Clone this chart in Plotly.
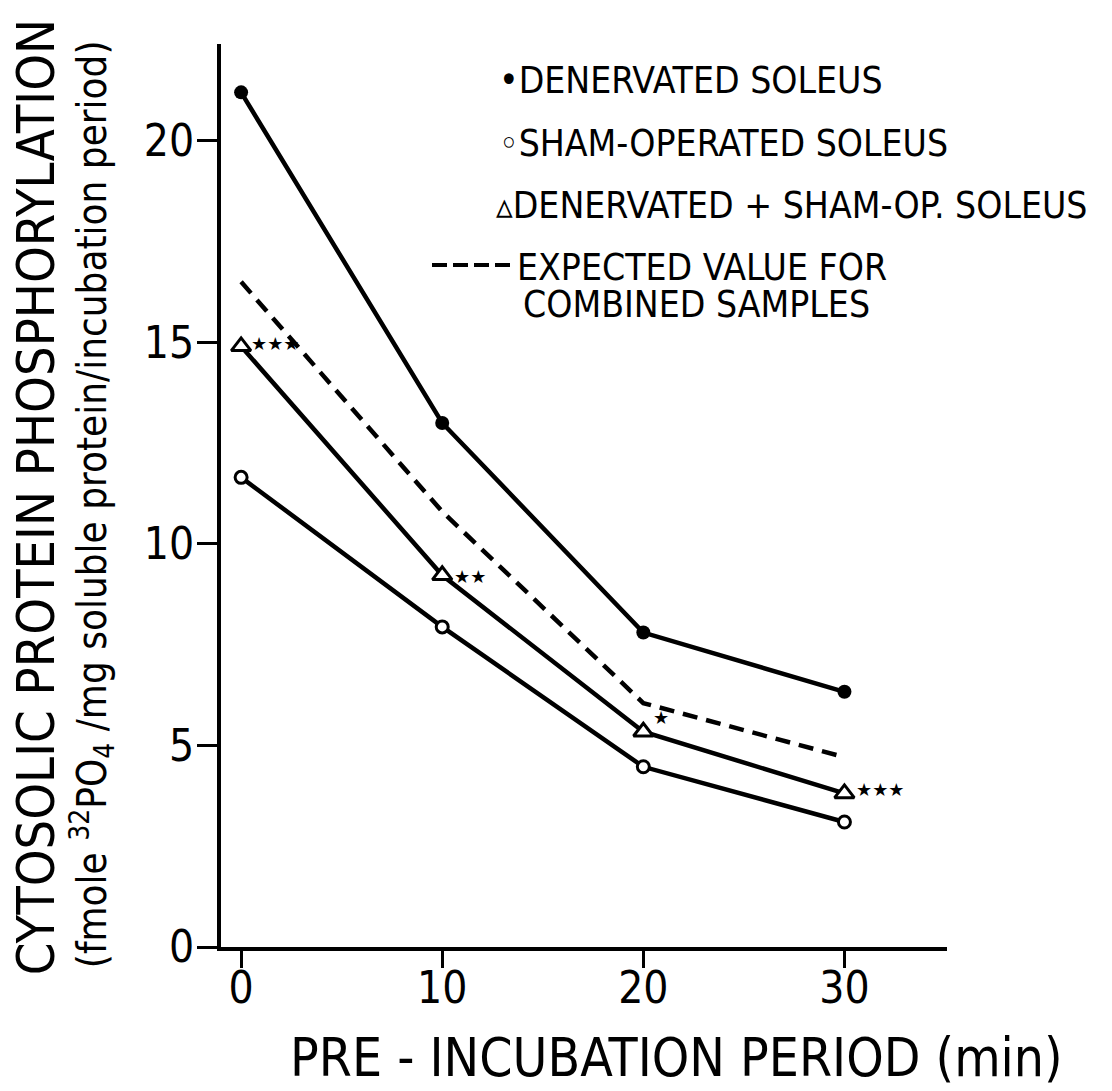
import plotly.graph_objects as go

# Pre-incubation period (min)
minutes = [0, 10, 20, 30]

# Cytosolic protein phosphorylation (fmole 32PO4 / mg soluble protein / incubation period)
denervated = [21.2, 13.0, 7.8, 6.33]
sham_operated = [11.65, 7.94, 4.47, 3.10]
combined = [14.9, 9.22, 5.34, 3.81]
expected_combined = [16.5, 10.8, 6.05, 4.71]

# significance marks on the combined series
significance = ["★★★", "★★", "★", "★★★"]

x_ticks = [0, 10, 20, 30]
y_ticks = [0, 5, 10, 15, 20]

W, H = 1112, 1091
L, R, T, B = 221, 947, 44, 946.7

FONT = "DejaVu Sans Condensed, Liberation Sans, sans-serif"
INK = "black"


def px(x):
    return (x - L) / (R - L)


def py(y):
    return (B - y) / (B - T)


fig = go.Figure()

line_style = dict(color=INK, width=4.5)

fig.add_trace(go.Scatter(
    x=minutes, y=expected_combined, mode="lines",
    line=dict(color=INK, width=4.5, dash="15px,9px"),
))
fig.add_trace(go.Scatter(
    x=minutes, y=denervated, mode="lines+markers",
    line=line_style,
    marker=dict(symbol="circle", size=14, color=INK),
))
fig.add_trace(go.Scatter(
    x=minutes, y=sham_operated, mode="lines+markers",
    line=line_style,
    marker=dict(symbol="circle", size=12, color="white",
                line=dict(color=INK, width=3)),
))
fig.add_trace(go.Scatter(
    x=minutes, y=combined, mode="lines+markers",
    line=line_style,
    marker=dict(symbol="triangle-up", size=17, color="white",
                line=dict(color=INK, width=3)),
))

annotations = []

# significance stars beside the combined-sample triangles
star_offsets = [(34, 3), (28, -1), (18, 14), (36, 4)]
for xv, yv, s, (dx, dy) in zip(minutes, combined, significance, star_offsets):
    annotations.append(dict(
        x=xv, y=yv, xref="x", yref="y", text=s, showarrow=False,
        xshift=dx, yshift=dy, xanchor="center", yanchor="middle",
        font=dict(family="DejaVu Sans", size=18, color=INK),
    ))

# key
key_font = dict(family=FONT, size=37, color=INK)
key_rows = [
    ("•DENERVATED SOLEUS", 497, 80),
    ("◦SHAM-OPERATED SOLEUS", 497, 143),
    ("▵DENERVATED + SHAM-OP. SOLEUS", 494, 205),
    ("EXPECTED VALUE FOR", 515, 267),
    ("COMBINED SAMPLES", 521, 304),
]
for text, x0, y0 in key_rows:
    annotations.append(dict(
        x=px(x0), y=py(y0), xref="paper", yref="paper", text=text,
        showarrow=False, xanchor="left", yanchor="middle", font=key_font,
    ))

# axis titles
annotations.append(dict(
    x=px(36), y=py(497), xref="paper", yref="paper",
    text="CYTOSOLIC PROTEIN PHOSPHORYLATION", textangle=-90,
    showarrow=False, xanchor="center", yanchor="middle",
    font=dict(family=FONT, size=52, color=INK),
))
annotations.append(dict(
    x=px(92), y=py(504), xref="paper", yref="paper",
    text="(fmole <sup>32</sup>PO<sub>4</sub> /mg soluble protein/incubation period)",
    textangle=-90, showarrow=False, xanchor="center", yanchor="middle",
    font=dict(family=FONT, size=40, color=INK),
))
annotations.append(dict(
    x=px(676), y=py(1057), xref="paper", yref="paper",
    text="PRE - INCUBATION PERIOD (min)",
    showarrow=False, xanchor="center", yanchor="middle",
    font=dict(family=FONT, size=53, color=INK),
))

fig.update_layout(
    width=W, height=H,
    margin=dict(l=L, r=W - R, t=T, b=H - B),
    paper_bgcolor="white", plot_bgcolor="white",
    showlegend=False,
    annotations=annotations,
    shapes=[dict(
        type="line", xref="paper", yref="paper",
        x0=px(432), x1=px(511), y0=py(265), y1=py(265),
        line=dict(color=INK, width=4, dash="15px,6px"),
    )],
)

fig.update_xaxes(
    range=[-1.0, 35.1], tickvals=x_ticks, ticktext=[str(v) for v in x_ticks],
    showgrid=False, zeroline=False, showline=True, linecolor=INK, linewidth=4,
    ticks="outside", ticklen=17, tickwidth=3, tickcolor=INK,
    tickfont=dict(family=FONT, size=44, color=INK),
    ticklabelstandoff=-18,
)
fig.update_yaxes(
    range=[0, 22.4], tickvals=y_ticks, ticktext=[str(v) for v in y_ticks],
    showgrid=False, zeroline=False, showline=True, linecolor=INK, linewidth=4,
    ticks="outside", ticklen=20, tickwidth=3, tickcolor=INK,
    tickfont=dict(family=FONT, size=44, color=INK),
    ticklabelstandoff=-6,
)

fig.write_html("out.html")
